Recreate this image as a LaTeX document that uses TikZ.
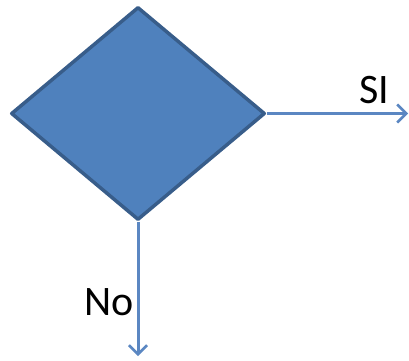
\documentclass[tikz,border=0pt]{standalone}
\usepackage{fontspec}
\setmainfont{Carlito}
\usetikzlibrary{shapes.geometric,arrows.meta}
\definecolor{dfill}{HTML}{4F81BD}
\definecolor{dline}{HTML}{385D8A}
\definecolor{aline}{HTML}{5B87C2}
\tikzset{
  decision/.style={diamond, fill=dfill, draw=dline, line width=3.5pt, line join=round,
    minimum width=254pt, minimum height=213pt, inner sep=0pt},
  flow/.style={draw=aline, line width=3pt, -{Straight Barb[length=9pt,width=18pt,line width=2.5pt]}},
  lbl/.style={font=\fontsize{42}{46}\selectfont, text=black, inner sep=0pt}
}
\begin{document}
\begin{tikzpicture}[x=1pt,y=1pt]
\useasboundingbox (0,0) rectangle (409,360);
\node[decision] (d) at (138,246.5) {};
\coordinate (siend) at (408,246.5);
\coordinate (noend) at (138,4);
\draw[flow] (d.east) -- (siend);
\draw[flow] (d.south) -- (noend);
\node[lbl] (si) at (374,270) {SI};
\node[lbl] (no) at (109,58) {No};
\end{tikzpicture}
\end{document}
